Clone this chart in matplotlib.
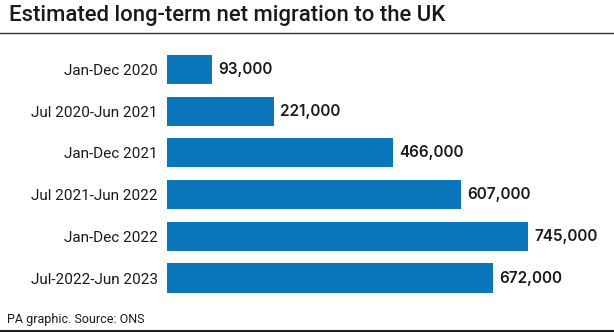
import matplotlib.pyplot as plt

# data
categories = ['Jan-Dec 2020', 'Jul 2020-Jun 2021', 'Jan-Dec 2021',
              'Jul 2021-Jun 2022', 'Jan-Dec 2022', 'Jul-2022-Jun 2023']
values = [93000, 221000, 466000, 607000, 745000, 672000]
value_labels = ['93,000', '221,000', '466,000', '607,000', '745,000', '672,000']

BLUE = '#0a77ba'
INK = '#1a1a1a'
FONT = 'Roboto'

W, H = 614, 332
fig = plt.figure(figsize=(W / 100, H / 100), dpi=100)

# axes placed in pixel terms
ax_left, ax_right = 167, 607
ax_top, ax_bottom = 48.6, 298.9
ax = fig.add_axes([ax_left / W, 1 - ax_bottom / H,
                   (ax_right - ax_left) / W, (ax_bottom - ax_top) / H])

ypos = list(range(len(categories)))
ax.barh(ypos, values, height=0.7, color=BLUE)
ax.set_ylim(len(categories) - 0.5, -0.5)
ax.set_xlim(0, (ax_right - ax_left) / 0.4846 * 1000)

for y, v, lab in zip(ypos, values, value_labels):
    ax.annotate(lab, (v, y), xytext=(4.5, 0), textcoords='offset points',
                va='center', ha='left', fontsize=11, fontweight='semibold',
                family='Inter', color=INK)

ax.set_yticks(ypos)
ax.set_yticklabels(categories, family=FONT, fontsize=11, color=INK)
ax.tick_params(axis='y', length=0, pad=6.5)
ax.set_xticks([])
for s in ax.spines.values():
    s.set_visible(False)

# title, rules and footer
fig.text(9 / W, 1 - 16 / H, 'Estimated long-term net migration to the UK',
         fontsize=15.9, fontweight='medium', family=FONT, color=INK,
         va='center', ha='left')
fig.add_artist(plt.Line2D([0, 1], [1 - 32.5 / H] * 2, color='#333333', lw=1.0))
fig.text(7 / W, 1 - 320 / H, 'PA graphic. Source: ONS',
         fontsize=9, family=FONT, color=INK, va='center', ha='left')
fig.add_artist(plt.Line2D([0, 1], [1 - 331 / H] * 2, color='#222222', lw=1.5))

fig.savefig('out.png', dpi=100)
